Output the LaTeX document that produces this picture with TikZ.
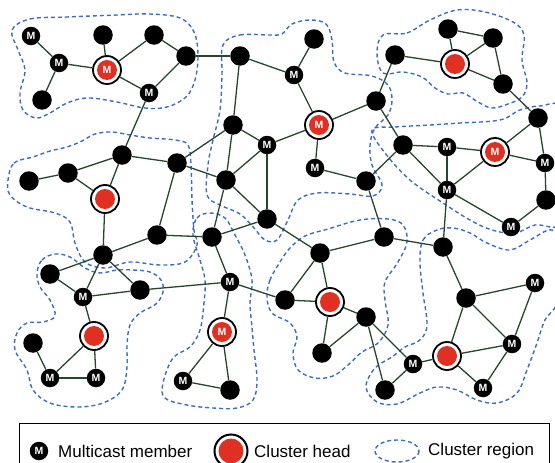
\documentclass[tikz,border=0pt]{standalone}
\usepackage{fontspec}
\setmainfont{Liberation Sans}
\definecolor{linkgreen}{RGB}{38,70,44}
\definecolor{headred}{RGB}{224,48,36}
\definecolor{zoneblue}{RGB}{62,108,196}
\tikzset{
  peer/.style={circle, fill=black, minimum size=19.5pt, inner sep=0pt},
  member/.style={circle, fill=black, minimum size=18.5pt, inner sep=0pt,
    text=white, font=\fontsize{10.5}{10.5}\selectfont\bfseries},
  head/.style={circle, draw=black, line width=1.8pt, fill=white,
    minimum size=28pt, inner sep=0pt,
    path picture={\fill[headred] (path picture bounding box.center) circle (10pt);}},
  headm/.style={head, text=white, font=\fontsize{10.5}{10.5}\selectfont\bfseries},
  link/.style={draw=linkgreen, line width=1.3pt},
  zone/.style={draw=zoneblue, line width=1.4pt, dash pattern=on 4pt off 3pt},
  keytext/.style={anchor=west, inner sep=0pt, font=\fontsize{17}{17}\selectfont},
}
\begin{document}
\begin{tikzpicture}[x=1pt,y=-1pt]
\useasboundingbox (0,0) rectangle (555,463);
\clip (0,0) rectangle (555,463);

% cluster regions
\draw[zone] plot[smooth cycle, tension=0.6] coordinates {(12,30) (30,19) (67,17) (117,15) (150,14) (180,18) (194,32) (198,55) (195,80) (186,97) (167,107) (145,108) (117,102) (88,98) (67,103) (50,113) (36,118) (23,110) (20,93) (25,70) (18,50)};
\draw[zone] plot[smooth cycle, tension=0.6] coordinates {(223,45) (240,35) (270,35) (282,34) (292,24) (310,20) (326,24) (332,40) (334,62) (345,73) (372,76) (388,85) (392,100) (388,115) (375,128) (370,145) (372,165) (382,185) (373,196) (350,194) (318,193) (298,200) (288,220) (277,240) (265,240) (254,228) (240,214) (220,205) (207,195) (208,165) (213,140) (220,110) (222,75)};
\draw[zone] plot[smooth cycle, tension=0.6] coordinates {(383,35) (407,33) (430,20) (457,10) (485,12) (513,22) (524,35) (522,60) (527,83) (522,97) (508,104) (492,108) (478,102) (463,93) (448,94) (435,88) (422,77) (403,72) (383,73) (377,53)};
\draw[zone] plot[smooth cycle, tension=0.6] coordinates {(372,130) (395,127) (430,125) (460,123) (500,120) (520,110) (540,106) (562,108) (566,160) (562,222) (535,225) (515,233) (492,230) (470,220) (443,203) (410,180) (385,153)};
\draw[zone] plot[smooth cycle, tension=0.6] coordinates {(8,180) (14,163) (33,157) (50,151) (67,147) (82,141) (95,134) (112,132) (130,135) (150,138) (175,140) (188,145) (191,165) (192,200) (194,230) (197,245) (185,262) (160,265) (130,262) (105,268) (85,262) (75,243) (70,222) (55,213) (27,207) (10,195)};
\draw[zone] plot[smooth cycle, tension=0.6] coordinates {(37,273) (42,260) (55,254) (70,257) (85,268) (100,273) (117,270) (133,270) (150,272) (161,280) (163,292) (156,304) (140,313) (130,325) (127,345) (127,367) (122,390) (103,403) (77,407) (50,403) (33,390) (27,370) (15,350) (17,333) (27,323) (43,322) (55,316) (50,300) (40,287)};
\draw[zone] plot[smooth cycle, tension=0.6] coordinates {(193,235) (197,218) (210,213) (225,218) (235,235) (245,255) (252,280) (250,303) (252,327) (254,350) (257,380) (253,400) (237,408) (213,408) (187,405) (165,398) (163,383) (173,358) (190,347) (200,330) (204,303) (205,280) (200,260)};
\draw[zone] plot[smooth cycle, tension=0.6] coordinates {(280,262) (270,280) (267,297) (272,313) (290,323) (297,337) (293,353) (298,370) (315,378) (333,376) (348,365) (362,352) (378,343) (388,325) (385,300) (385,282) (398,262) (407,242) (403,225) (388,219) (360,220) (328,229) (305,236) (290,248)};
\draw[zone] plot[smooth cycle, tension=0.6] coordinates {(420,262) (423,240) (437,230) (453,228) (470,233) (487,243) (510,250) (530,240) (552,230) (562,250) (558,300) (545,320) (537,343) (527,370) (517,393) (497,403) (477,400) (457,390) (437,387) (420,393) (397,404) (377,402) (366,387) (375,368) (392,357) (405,347) (420,340) (427,325) (423,293)};

% nodes: upper left group
\node[member] (a1) at (31,36) {M};
\node[member] (a2) at (59,63) {M};
\node[peer]   (a3) at (42,100) {};
\node[headm]  (a4) at (107,70) {M};
\node[peer]   (a5) at (103,35) {};
\node[peer]   (a6) at (154,35) {};
\node[peer]   (a7) at (186,56) {};
\node[member] (a8) at (149,93) {M};
% upper centre group
\node[peer]   (b1) at (240,56) {};
\node[peer]   (b2) at (314,39) {};
\node[member] (b3) at (294,75) {M};
\node[headm]  (b4) at (319,125) {M};
\node[peer]   (b5) at (376,101) {};
\node[peer]   (b6) at (233,125) {};
\node[member] (b7) at (267,145) {M};
\node[member] (b8) at (315,168) {M};
\node[peer]   (b9) at (366,181) {};
\node[peer]   (b10) at (226,180) {};
\node[peer]   (b11) at (267,219) {};
% upper right group
\node[peer]   (c1) at (395,55) {};
\node[peer]   (c2) at (448,29) {};
\node[peer]   (c3) at (493,38) {};
\node[head]   (c4) at (455,64) {};
\node[peer]   (c5) at (503,84) {};
\node[peer]   (c6) at (538,118) {};
% right group
\node[peer]   (d1) at (403,145) {};
\node[member] (d2) at (447,147) {M};
\node[headm]  (d3) at (495,152) {M};
\node[member] (d4) at (545,163) {M};
\node[member] (d5) at (447,190) {M};
\node[peer]   (d6) at (546,200) {};
\node[member] (d7) at (511,227) {M};
% left group
\node[peer]   (e1) at (29,181) {};
\node[peer]   (e2) at (68,173) {};
\node[peer]   (e3) at (122,155) {};
\node[peer]   (e4) at (177,163) {};
\node[head]   (e5) at (105,199) {};
\node[peer]   (e6) at (157,235) {};
\node[peer]   (e7) at (103,255) {};
\node[peer]   (e8) at (212,237) {};
% lower left group
\node[peer]   (f1) at (50,274) {};
\node[member] (f2) at (83,297) {M};
\node[peer]   (f3) at (140,290) {};
\node[head]   (f4) at (94,336) {};
\node[peer]   (f5) at (33,343) {};
\node[member] (f6) at (50,378) {M};
\node[member] (f7) at (96,378) {M};
% lower centre groups
\node[member] (g1) at (230,282) {M};
\node[headm]  (g2) at (222,332) {M};
\node[member] (g3) at (183,381) {M};
\node[peer]   (g4) at (230,390) {};
\node[peer]   (h1) at (285,300) {};
\node[peer]   (h2) at (320,253) {};
\node[head]   (h3) at (330,302) {};
\node[peer]   (h4) at (366,317) {};
\node[peer]   (h5) at (322,353) {};
\node[peer]   (h6) at (384,237) {};
% lower right group
\node[peer]   (i1) at (443,247) {};
\node[peer]   (i2) at (466,298) {};
\node[member] (i3) at (535,283) {M};
\node[member] (i4) at (512,344) {M};
\node[head]   (i5) at (447,356) {};
\node[member] (i6) at (483,388) {M};
\node[member] (i7) at (413,364) {M};
\node[peer]   (i8) at (385,390) {};

% links
\foreach \u/\v in {a1/a2, a2/a3, a2/a4, a4/a5, a4/a6, a4/a8, a6/a7, a7/a8, a7/b1, a8/e3,
  b1/b3, b3/b2, b3/b4, b4/b5, b1/b6, b6/b7, b7/b4, b4/b8, b8/b9, b6/b10, b7/b10, b7/b11,
  b10/b11, b10/e4, b6/e4, b10/e8, e8/b11, b11/h2, b5/c1, b5/d1, d1/b9, b9/h6, h2/h6, h6/i1,
  c1/c4, c4/c2, c4/c3, c2/c3, c3/c5, c4/c5, c5/c6, c6/d3, c6/d4,
  d1/d2, d1/d5, d2/d5, d2/d3, d5/d3, d3/d4, d4/d6, d6/d7, d7/d5, d5/i1,
  e1/e2, e2/e3, e2/e5, e3/e5, e3/e4, e4/e6, e5/e7, e7/e6, e6/e8, e7/f1, e7/f2, e7/f3,
  f1/f2, f2/f3, f3/g1, f2/f4, f4/f6, f4/f7, f6/f7, f5/f6,
  e8/g1, g1/h1, g1/g2, g2/g3, g2/g4, g3/g4,
  h1/h3, h1/h2, h2/h3, h3/h4, h3/h5, h5/h4, h4/i7, h4/i8, i8/i7, i7/i5,
  i5/i2, i5/i4, i5/i6, i6/i4, i2/i4, i2/i3, i3/i4, i1/i2}
  \draw[link] (\u) -- (\v);

% legend
\draw[black, line width=1pt] (19,423) rectangle (549,480);
\node[member] (km) at (39,451) {M};
\node[keytext] (kmt) at (58,451) {Multicast member};
\node[circle, draw=black, line width=2pt, fill=white, minimum size=33pt, inner sep=0pt,
  path picture={\fill[headred] (path picture bounding box.center) circle (12.5pt);}] (kh) at (231,451) {};
\node[keytext] (kht) at (254,451) {Cluster head};
\draw[zone] (397,451) ellipse (22 and 11);
\node[keytext] (kzt) at (428,451) {Cluster region};
\end{tikzpicture}
\end{document}
